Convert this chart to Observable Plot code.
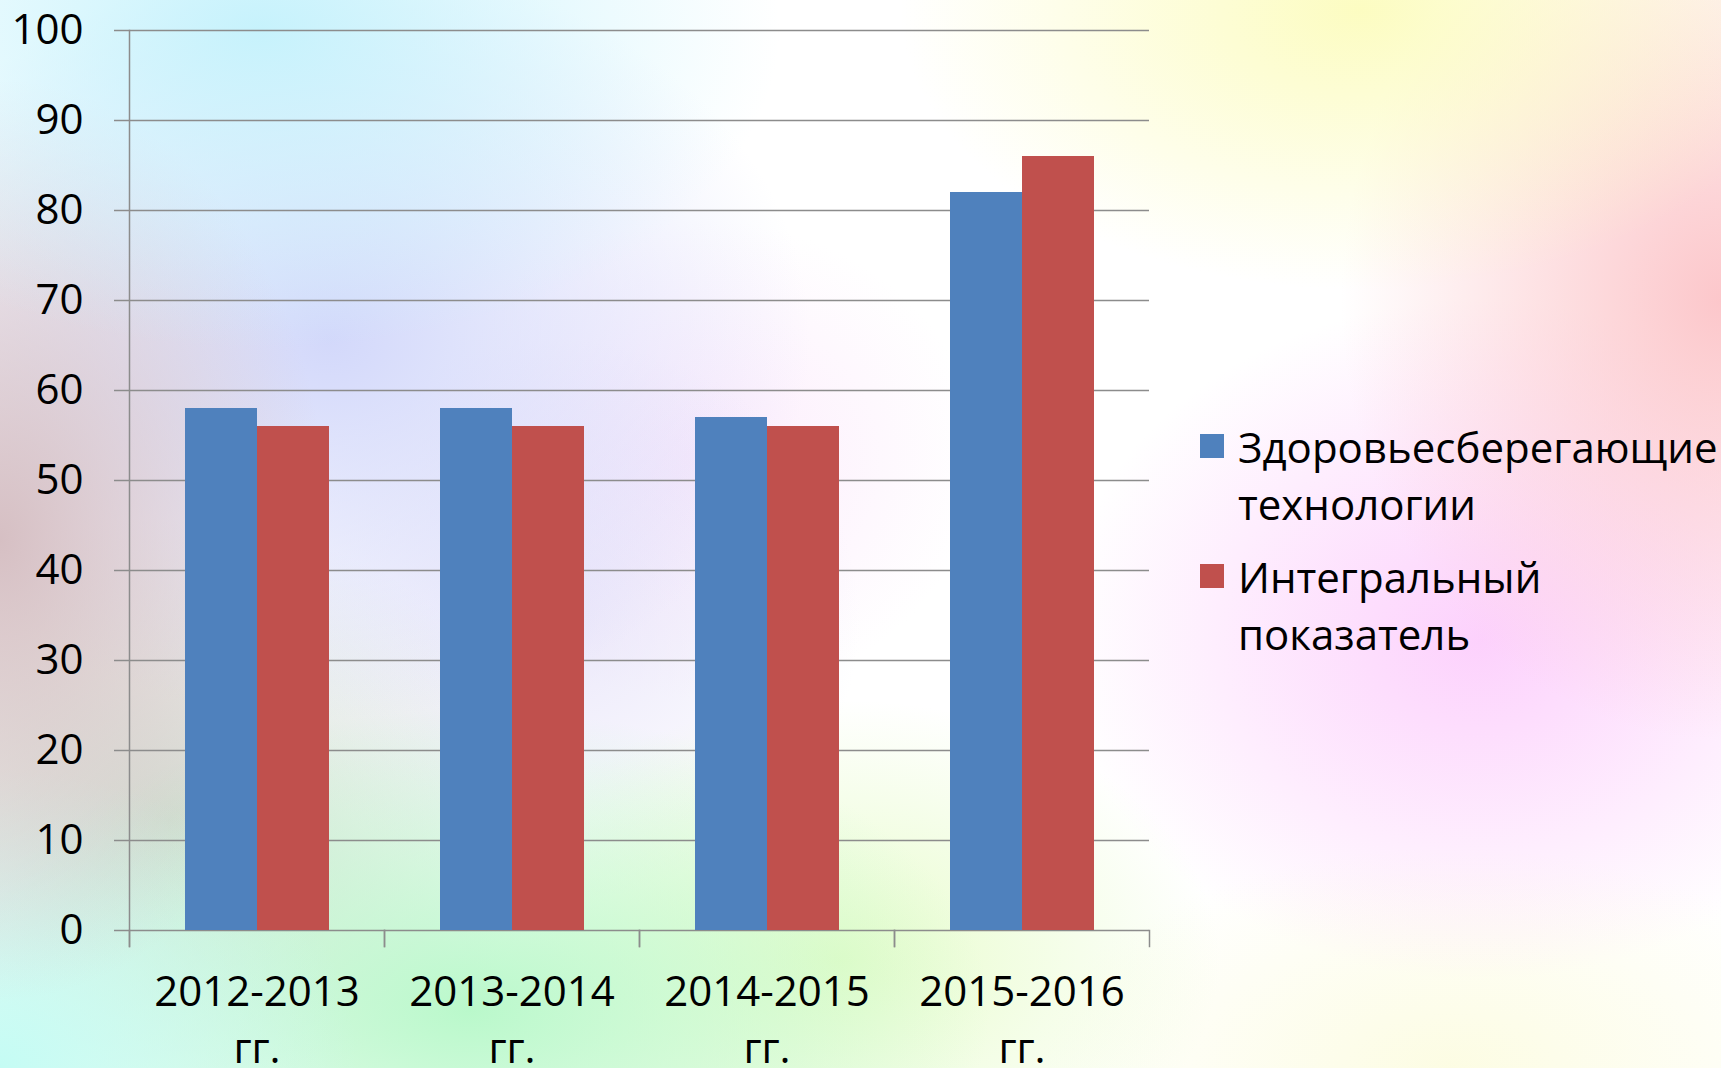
<!DOCTYPE html>
<html><head><meta charset="utf-8">
<script src="https://cdn.jsdelivr.net/npm/d3@7"></script>
<script src="https://cdn.jsdelivr.net/npm/@observablehq/plot@0.6"></script>
<style>
html,body{margin:0;padding:0;width:1721px;height:1068px;overflow:hidden;}
#wrap{position:relative;width:1721px;height:1068px;overflow:hidden;
  background:
    radial-gradient(ellipse 520px 320px at 260px 30px, rgba(196,242,252,0.95), rgba(196,242,252,0) 100%),
    radial-gradient(ellipse 330px 460px at 0px 540px, rgba(212,188,192,0.95), rgba(212,188,192,0) 100%),
    radial-gradient(ellipse 480px 380px at 330px 340px, rgba(206,212,250,0.9), rgba(206,212,250,0) 100%),
    radial-gradient(ellipse 360px 300px at 0px 1068px, rgba(196,252,244,1), rgba(196,252,244,0) 100%),
    radial-gradient(ellipse 520px 300px at 470px 1010px, rgba(182,248,200,0.95), rgba(182,248,200,0) 100%),
    radial-gradient(ellipse 380px 300px at 170px 820px, rgba(204,218,204,0.85), rgba(204,218,204,0) 100%),
    radial-gradient(ellipse 380px 260px at 840px 960px, rgba(228,252,196,0.9), rgba(228,252,196,0) 100%),
    radial-gradient(ellipse 300px 280px at 560px 620px, rgba(226,222,248,0.7), rgba(226,222,248,0) 100%),
    radial-gradient(ellipse 460px 280px at 1360px 10px, rgba(252,252,190,0.95), rgba(252,252,190,0) 100%),
    radial-gradient(ellipse 380px 440px at 1721px 300px, rgba(252,196,200,0.95), rgba(252,196,200,0) 100%),
    radial-gradient(ellipse 420px 340px at 1480px 640px, rgba(252,204,252,0.9), rgba(252,204,252,0) 100%),
    radial-gradient(ellipse 280px 240px at 700px 460px, rgba(250,222,250,0.6), rgba(250,222,250,0) 100%),
    radial-gradient(ellipse 420px 220px at 1450px 1068px, rgba(252,252,224,0.9), rgba(252,252,224,0) 100%),
    #ffffff;}
#chart{position:absolute;left:0;top:0;}
#legend{position:absolute;left:1200px;top:418px;font-family:"Open Sans",sans-serif;font-size:42px;color:#000;}
.item{display:flex;align-items:flex-start;margin-bottom:16px;}
.sw{width:24px;height:24px;margin-top:16px;margin-right:14px;flex:none;}
.txt{line-height:57px;white-space:nowrap;}
</style></head>
<body><div id="wrap"><div id="chart"></div><div id="legend"></div></div>
<script>
const categories = ["2012-2013", "2013-2014", "2014-2015", "2015-2016"];
const categorySuffix = "гг.";
const seriesNames = ["Здоровьесберегающие технологии", "Интегральный показатель"];
const healthTech = [58, 58, 57, 82];
const integral = [56, 56, 56, 86];
const yTicks = [0, 10, 20, 30, 40, 50, 60, 70, 80, 90, 100];
const seriesColors = ["#4f81bd", "#c0504d"];

const data = categories.flatMap((c, i) => [
  {cat: c, series: seriesNames[0], value: healthTech[i]},
  {cat: c, series: seriesNames[1], value: integral[i]}
]);

const W = 1721, H = 1068, mt = 30, mb = 138, ml = 128, mr = 571;
const gridColor = "#8c8c8c";

const chart = Plot.plot({
  width: W, height: H,
  marginTop: mt, marginBottom: mb, marginLeft: ml, marginRight: mr,
  style: {background: "transparent", fontFamily: "'Open Sans', sans-serif", fontSize: "42px", color: "#000", overflow: "visible"},
  fx: {domain: categories, padding: 0, label: null},
  x: {domain: seriesNames, paddingInner: 0, paddingOuter: 0.75, axis: null},
  y: {domain: [0, 100], label: null},
  color: {domain: seriesNames, range: seriesColors},
  marks: [
    Plot.gridY(yTicks, {stroke: gridColor, strokeOpacity: 1, strokeWidth: 1.5}),
    Plot.barY(data, {fx: "cat", x: "series", y: "value", fill: "series"}),
    Plot.axisY(yTicks, {tickSize: 15, tickPadding: 31, stroke: gridColor, strokeWidth: 1.5, fill: "#000", fontSize: 42, label: null, tickFormat: d => String(d)}),
    Plot.axisFx({anchor: "bottom", tickSize: 0, tickPadding: 35, fontSize: 42, lineHeight: 1.36, fill: "#000", label: null, tickFormat: d => d + "\n" + categorySuffix}),
    Plot.frame({anchor: "left", insetTop: H - mt - mb, insetBottom: -16, stroke: gridColor, strokeWidth: 1.5}),
    Plot.frame({anchor: "right", insetTop: H - mt - mb, insetBottom: -16, stroke: gridColor, strokeWidth: 1.5}),
    Plot.frame({anchor: "left", facetAnchor: "left", insetBottom: -16, stroke: gridColor, strokeWidth: 1.5})
  ]
});
document.getElementById("chart").appendChild(chart);

const legend = document.getElementById("legend");
seriesNames.forEach((name, i) => {
  const item = document.createElement("div");
  item.className = "item";
  const sw = document.createElement("div");
  sw.className = "sw";
  sw.style.background = seriesColors[i];
  const txt = document.createElement("div");
  txt.className = "txt";
  txt.innerHTML = name.split(" ").join("<br>");
  item.appendChild(sw); item.appendChild(txt);
  legend.appendChild(item);
});
</script>
</body></html>
